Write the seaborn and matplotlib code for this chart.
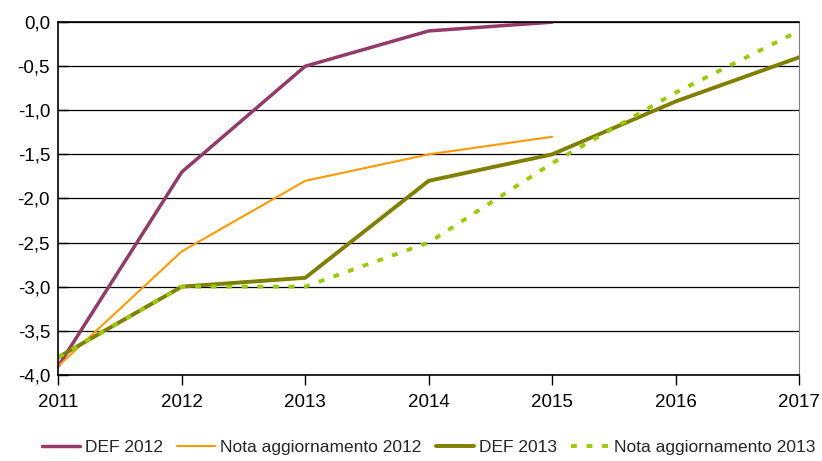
import matplotlib
matplotlib.use("Agg")
import matplotlib.pyplot as plt
import seaborn as sns
import pandas as pd
from matplotlib import font_manager

years = [2011, 2012, 2013, 2014, 2015, 2016, 2017]
def_2012 = [-3.9, -1.7, -0.5, -0.1, 0.0, None, None]
nota_2012 = [-3.9, -2.6, -1.8, -1.5, -1.3, None, None]
def_2013 = [-3.8, -3.0, -2.9, -1.8, -1.5, -0.9, -0.4]
nota_2013 = [-3.8, -3.0, -3.0, -2.5, -1.6, -0.8, -0.1]

series = {
    "DEF 2012": def_2012,
    "Nota aggiornamento 2012": nota_2012,
    "DEF 2013": def_2013,
    "Nota aggiornamento 2013": nota_2013,
}
rows = []
for name, vals in series.items():
    for y, v in zip(years, vals):
        if v is not None:
            rows.append({"anno": y, "valore": v, "serie": name})
df = pd.DataFrame(rows)

sns.set_style("white")
names = {f.name for f in font_manager.fontManager.ttflist}
fam = "Liberation Sans Narrow" if "Liberation Sans Narrow" in names else "Liberation Sans"
plt.rcParams["font.family"] = [fam, "DejaVu Sans"]

colors = {
    "DEF 2012": "#943A66",
    "Nota aggiornamento 2012": "#FF9900",
    "DEF 2013": "#808000",
    "Nota aggiornamento 2013": "#99CC00",
}
widths = {"DEF 2012": 2.5, "Nota aggiornamento 2012": 1.5, "DEF 2013": 2.8, "Nota aggiornamento 2013": 2.8}

fig, ax = plt.subplots(figsize=(8.22, 4.61), dpi=100)
fig.subplots_adjust(left=0.071, right=0.972, top=0.952, bottom=0.187)

for name in series:
    sub = df[df["serie"] == name]
    sns.lineplot(data=sub, x="anno", y="valore", ax=ax, color=colors[name],
                 linewidth=widths[name], label=name,
                 linestyle=(0, (1.5, 2.5)) if name == "Nota aggiornamento 2013" else "-")

ax.set_xlim(2011, 2017)
ax.set_ylim(-4.0, 0.0)
yt = [i * 0.5 for i in range(-8, 1)]
ax.set_yticks(yt)
ax.set_yticklabels([f"{v:.1f}".replace(".", ",") for v in yt])
ax.set_xticks(years)
ax.set_xlabel("")
ax.set_ylabel("")
ax.yaxis.grid(True, color="black", linewidth=0.9)
ax.set_axisbelow(True)
for s in ["top", "left", "bottom"]:
    ax.spines[s].set_color("black")
    ax.spines[s].set_linewidth(1.2)
ax.spines["right"].set_color("#808080")
ax.tick_params(axis="both", labelsize=13.5, colors="black", pad=6)
ax.tick_params(axis="x", length=7, width=1, direction="out", bottom=True, pad=7)
ax.tick_params(axis="y", length=7, width=1, direction="in", left=True)

ax.legend(loc="upper center", bbox_to_anchor=(0.5, -0.14), ncol=4, frameon=False,
          fontsize=12.5, handlelength=2.2, handletextpad=0.3, columnspacing=0.8)

fig.savefig("out.png", dpi=100)
